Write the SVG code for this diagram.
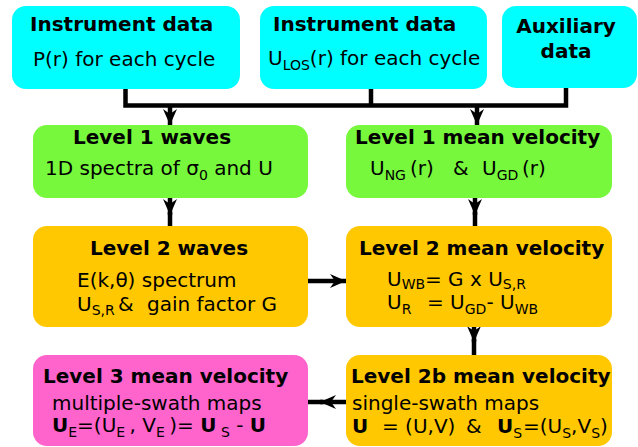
<svg xmlns="http://www.w3.org/2000/svg" width="638" height="447" viewBox="0 0 638 447">
<defs>
<style>
text{font-family:"DejaVu Sans","Liberation Sans",sans-serif;fill:#000}
.t{font-weight:bold;font-size:20px}
.n{font-size:20px}
.s{font-size:14px}
.b{font-weight:bold}
.cyan{fill:#00ffff}
.green{fill:#77f83c}
.orange{fill:#ffc800}
.pink{fill:#ff63cc}
.c{fill:none;stroke:#000;stroke-width:4.5}
</style>
<marker id="ah" viewBox="0 0 16 14" refX="16" refY="7" markerWidth="16" markerHeight="14" markerUnits="userSpaceOnUse" orient="auto">
<path d="M0,0 L16,7 L0,14 L5,7 z" fill="#000"/>
</marker>
</defs>
<rect width="638" height="447" fill="#fff"/>

<g id="connectors">
<path class="c" d="M125.5,89 V105.5 H566 V88"/>
<path class="c" d="M371,89 V105.5"/>
<path class="c" d="M170,105.5 V125" marker-end="url(#ah)"/>
<path class="c" d="M477,105.5 V125" marker-end="url(#ah)"/>
<path class="c" d="M170,198 V215" marker-end="url(#ah)"/>
<path class="c" d="M170,212 V226"/>
<path class="c" d="M475,198 V215" marker-end="url(#ah)"/>
<path class="c" d="M475,212 V226"/>
<path class="c" d="M308,281 H346" marker-end="url(#ah)"/>
<path class="c" d="M474,327 V342" marker-end="url(#ah)"/>
<path class="c" d="M474,339 V355"/>
<path class="c" d="M346,402 H320" marker-end="url(#ah)"/>
<path class="c" d="M323,402 H308"/>
</g>

<g id="instrument1">
<rect class="cyan" x="12" y="6" width="228" height="83" rx="14"/>
<text class="t" x="30" y="31">Instrument data</text>
<text class="n" x="33" y="66">P(r) for each cycle</text>
</g>

<g id="instrument2">
<rect class="cyan" x="260" y="6" width="227" height="83" rx="14"/>
<text class="t" x="273" y="31">Instrument data</text>
<text class="n" x="268" y="65">U<tspan class="s" dy="5">LOS</tspan><tspan dy="-5">(r) for each cycle</tspan></text>
</g>

<g id="auxiliary">
<rect class="cyan" x="502" y="6" width="135" height="82" rx="14"/>
<text class="t" x="566" y="33" text-anchor="middle">Auxiliary</text>
<text class="t" x="566" y="58" text-anchor="middle">data</text>
</g>

<g id="level1waves">
<rect class="green" x="33" y="125" width="275" height="73" rx="14"/>
<text class="t" x="73" y="144">Level 1 waves</text>
<text class="n" x="45" y="175">1D spectra of σ<tspan class="s" dy="5">0</tspan><tspan dy="-5"> and U</tspan></text>
</g>

<g id="level1mean">
<rect class="green" x="346" y="125" width="266" height="73" rx="14"/>
<text class="t" x="355" y="144">Level 1 mean velocity</text>
<text class="n" x="370" y="175">U<tspan class="s" dy="5">NG</tspan><tspan x="410" dy="-5">(r)</tspan><tspan x="453">&amp;</tspan><tspan x="482">U</tspan><tspan class="s" dy="5">GD</tspan><tspan x="522" dy="-5">(r)</tspan></text>
</g>

<g id="level2waves">
<rect class="orange" x="33" y="226" width="275" height="101" rx="14"/>
<text class="t" x="90" y="255">Level 2 waves</text>
<text class="n" x="77" y="287">E(k,θ) spectrum</text>
<text class="n" x="77" y="311">U<tspan class="s" dy="4">S,R</tspan><tspan x="118" dy="-4">&amp;</tspan><tspan x="147">gain factor G</tspan></text>
</g>

<g id="level2mean">
<rect class="orange" x="346" y="226" width="266" height="101" rx="14"/>
<text class="t" x="359" y="255">Level 2 mean velocity</text>
<text class="n" x="387" y="286">U<tspan class="s" dy="3">WB</tspan><tspan x="425" dy="-3">= G x U</tspan><tspan class="s" dy="3">S,R</tspan></text>
<text class="n" x="387" y="309">U<tspan class="s" dy="5">R</tspan><tspan x="427" dy="-5">= U</tspan><tspan class="s" dy="5">GD</tspan><tspan dy="-5">- U</tspan><tspan class="s" dy="5">WB</tspan></text>
</g>

<g id="level3mean">
<rect class="pink" x="33" y="355" width="275" height="91" rx="14"/>
<text class="t" x="43" y="383">Level 3 mean velocity</text>
<text class="n" x="52" y="410">multiple-swath maps</text>
<text class="n" x="52" y="432"><tspan class="b">U</tspan><tspan class="s" dy="5">E</tspan><tspan dy="-5">=(U</tspan><tspan class="s" dy="5">E </tspan><tspan dy="-5">, V</tspan><tspan class="s" dy="5">E </tspan><tspan dy="-5">)= </tspan><tspan class="b">U</tspan><tspan class="s" dy="5"> S</tspan><tspan dy="-5"> - </tspan><tspan class="b">U</tspan></text>
</g>

<g id="level2bmean">
<rect class="orange" x="346" y="355" width="266" height="91" rx="14"/>
<text class="t" x="351" y="383">Level 2b mean velocity</text>
<text class="n" x="352" y="410">single-swath maps</text>
<text class="n" x="352" y="433"><tspan class="b">U</tspan><tspan x="382">= (U,V)</tspan><tspan x="466">&amp;</tspan><tspan x="497" class="b">U</tspan><tspan class="s" dy="5">S</tspan><tspan x="523" dy="-5">=(U</tspan><tspan class="s" dy="5">S</tspan><tspan dy="-5">,V</tspan><tspan class="s" dy="5">S</tspan><tspan dy="-5">)</tspan></text>
</g>
</svg>
